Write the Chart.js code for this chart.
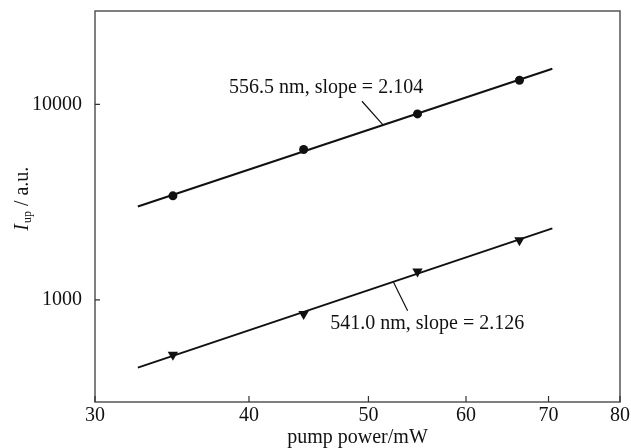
<!DOCTYPE html>
<html><head><meta charset="utf-8">
<script src="https://cdn.jsdelivr.net/npm/chart.js@4"></script>
<style>html,body{margin:0;padding:0;background:#fff;}canvas{display:block;}</style>
</head><body>
<canvas id="c" width="631" height="448"></canvas>
<script>
// ---- data ----
const xTicks = [30, 40, 50, 60, 70, 80];
const yTicks = [1000, 10000];
const power = [34.7, 44.3, 54.8, 66.3];
const up556 = [3400, 5870, 8930, 13270];
const up541 = [524, 845, 1396, 2018];
const fitPower = [32.5, 70.5];
const fit556 = [3000, 15200];
const fit541 = [450, 2320];
const labelTexts = ['556.5 nm, slope = 2.104', '541.0 nm, slope = 2.126'];
const labelAnchorX = [46.2, 55.8];
const labelAnchorY = [12200, 754];
const leaderX = [[49.4, 51.4], [52.4, 53.8]];
const leaderY = [[10360, 7830], [1230, 879]];
const xTitle = 'pump power/mW';

const FONT = '"Liberation Serif", "DejaVu Serif", serif';
const INK = '#111';

const pts = (xs, ys) => xs.map((x, i) => ({x, y: ys[i]}));

const decor = {
  id: 'decor',
  afterDraw(chart) {
    const {ctx, chartArea: a, scales: {x, y}} = chart;
    ctx.save();
    // frame
    ctx.strokeStyle = '#555';
    ctx.lineWidth = 1.5;
    ctx.strokeRect(a.left, a.top, a.right - a.left, a.bottom - a.top);
    // inward ticks
    ctx.strokeStyle = '#333';
    ctx.lineWidth = 1.2;
    ctx.beginPath();
    xTicks.forEach(v => {
      const px = x.getPixelForValue(v);
      ctx.moveTo(px, a.bottom); ctx.lineTo(px, a.bottom - 6);
    });
    yTicks.forEach(v => {
      const py = y.getPixelForValue(v);
      ctx.moveTo(a.left, py); ctx.lineTo(a.left + 5, py);
    });
    ctx.stroke();
    // annotations
    ctx.fillStyle = INK;
    ctx.font = '20px ' + FONT;
    ctx.textAlign = 'center';
    ctx.textBaseline = 'middle';
    labelTexts.forEach((t, i) => {
      ctx.fillText(t, x.getPixelForValue(labelAnchorX[i]), y.getPixelForValue(labelAnchorY[i]));
    });
    ctx.strokeStyle = INK;
    ctx.lineWidth = 1.2;
    ctx.beginPath();
    leaderX.forEach((lx, i) => {
      ctx.moveTo(x.getPixelForValue(lx[0]), y.getPixelForValue(leaderY[i][0]));
      ctx.lineTo(x.getPixelForValue(lx[1]), y.getPixelForValue(leaderY[i][1]));
    });
    ctx.stroke();
    // y axis title: I_up / a.u.
    const cy = a.top + (a.bottom - a.top) * 0.48;
    ctx.translate(21, cy);
    ctx.rotate(-Math.PI / 2);
    ctx.textAlign = 'left';
    ctx.textBaseline = 'alphabetic';
    const f1 = 'italic 20px ' + FONT, f2 = '12px ' + FONT, f3 = '20px ' + FONT;
    ctx.font = f1; const w1 = ctx.measureText('I').width + 1;
    ctx.font = f2; const w2 = ctx.measureText('up').width;
    ctx.font = f3; const w3 = ctx.measureText(' / a.u.').width;
    let sx = -(w1 + w2 + w3) / 2;
    ctx.font = f1; ctx.fillText('I', sx, 7); sx += w1;
    ctx.font = f2; ctx.fillText('up', sx, 10); sx += w2;
    ctx.font = f3; ctx.fillText(' / a.u.', sx, 7);
    ctx.restore();
  }
};

new Chart(document.getElementById('c'), {
  type: 'scatter',
  data: {
    datasets: [
      {data: pts(fitPower, fit556), showLine: true, borderColor: INK, borderWidth: 2, pointRadius: 0},
      {data: pts(fitPower, fit541), showLine: true, borderColor: INK, borderWidth: 2, pointRadius: 0},
      {data: pts(power, up556), pointStyle: 'circle', pointRadius: 4.5, backgroundColor: INK, borderColor: INK, borderWidth: 0},
      {data: pts(power, up541), pointStyle: 'triangle', rotation: 180, pointRadius: 6, backgroundColor: INK, borderColor: INK, borderWidth: 0}
    ]
  },
  options: {
    responsive: false,
    animation: false,
    devicePixelRatio: 1,
    layout: {padding: {top: 11, right: 11, left: 0, bottom: 0}},
    plugins: {legend: {display: false}, tooltip: {enabled: false}},
    scales: {
      x: {
        type: 'logarithmic', min: 30, max: 80,
        afterBuildTicks: s => { s.ticks = xTicks.map(v => ({value: v})); },
        afterFit: s => { s.height = 46; s.paddingLeft = 0; s.paddingRight = 0; },
        grid: {display: false},
        border: {display: false},
        ticks: {color: INK, font: {family: FONT, size: 20}, padding: -6, maxRotation: 0, autoSkip: false,
                callback: v => String(v)},
        title: {display: true, text: xTitle, color: INK, font: {family: FONT, size: 20, lineHeight: 1.0}, padding: {top: 0, bottom: 0}}
      },
      y: {
        type: 'logarithmic', min: 300, max: 30000,
        afterBuildTicks: s => { s.ticks = yTicks.map(v => ({value: v})); },
        afterFit: s => { s.width = 95; s.paddingTop = 0; s.paddingBottom = 0; },
        grid: {display: false},
        border: {display: false},
        ticks: {color: INK, font: {family: FONT, size: 20}, padding: 5, autoSkip: false,
                callback: v => String(v)}
      }
    }
  },
  plugins: [decor]
});
</script>
</body></html>
